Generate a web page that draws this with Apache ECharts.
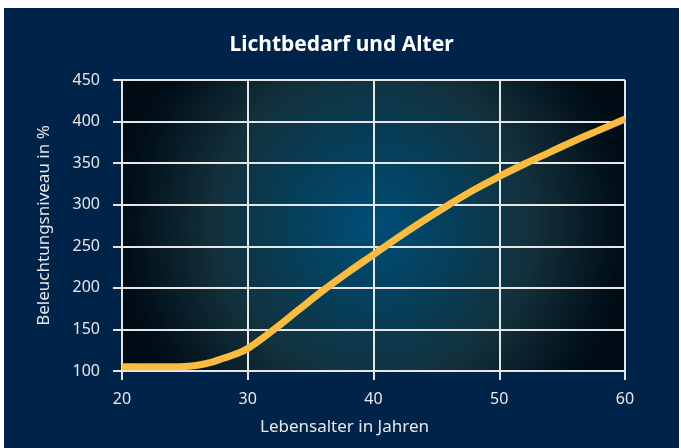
<!DOCTYPE html>
<html><head><meta charset="utf-8">
<script src="https://cdn.jsdelivr.net/npm/echarts@6/dist/echarts.min.js"></script>
<style>
html,body{margin:0;padding:0;background:#fff;width:681px;height:448px;overflow:hidden}
#c{position:absolute;left:4px;top:8px;width:675px;height:440px;background:#00234a}
</style></head><body><div id="c"></div>
<script>
const ages   = [20, 22, 24, 25, 26, 27, 28, 29, 30, 32, 34, 36, 38, 40, 42, 44, 46, 48, 50, 52, 54, 56, 58, 60];
const levels = [105,105,105,105.5,107,110,115,120,127,149,173,197,219,240,261,281,300,318,334,349,363,377,390,403];
const xTicks = [20, 30, 40, 50, 60];
const yTicks = [100, 150, 200, 250, 300, 350, 400, 450];

const chart = echarts.init(document.getElementById('c'), null, {renderer:'canvas'});
const font = 'Noto Sans';
chart.setOption({
  backgroundColor: '#00234a',
  animation: false,
  title: {
    text: 'Lichtbedarf und Alter', left: 'center', top: 22,
    textStyle: {color:'#fff', fontSize: 21, fontWeight:'bold', fontFamily: font}
  },
  grid: {
    left: 118, right: 54, top: 72, bottom: 77, show: true, borderWidth: 0,
    backgroundColor: {
      type: 'radial', x: 0.5, y: 0.5, r: 1.0,
      colorStops: [
        {offset: 0, color: '#004e78'},
        {offset: 0.3, color: '#063e58'},
        {offset: 0.55, color: '#13303b'},
        {offset: 0.85, color: '#000e18'},
        {offset: 1, color: '#000b14'}
      ]
    }
  },
  xAxis: {
    type: 'value', min: 20, max: 60, interval: 10,
    name: 'Lebensalter in Jahren', nameLocation: 'middle', nameGap: 48,
    nameTextStyle: {color:'#e8e8e8', fontSize: 17, fontFamily: font, padding: [0, 58, 0, 0]},
    axisLine: {show: true, lineStyle: {color:'#e6e6e6', width: 2}},
    axisTick: {show: true, length: 9, lineStyle: {color:'#e6e6e6', width: 2}},
    axisLabel: {color:'#e8e8e8', fontSize: 16, fontFamily: font, margin: 20,
      customValues: xTicks},
    splitLine: {show: true, lineStyle: {color:'#e6e6e6', width: 2}}
  },
  yAxis: {
    type: 'value', min: 100, max: 450, interval: 50,
    name: 'Beleuchtungsniveau in %', nameLocation: 'middle', nameGap: 69,
    nameTextStyle: {color:'#e8e8e8', fontSize: 17, fontFamily: font},
    axisLine: {show: true, lineStyle: {color:'#e6e6e6', width: 2}},
    axisTick: {show: true, length: 9, lineStyle: {color:'#e6e6e6', width: 2}},
    axisLabel: {color:'#e8e8e8', fontSize: 16, fontFamily: font, margin: 22,
      customValues: yTicks},
    splitLine: {show: true, lineStyle: {color:'#e6e6e6', width: 2}}
  },
  series: [{
    type: 'line', data: ages.map((a,i)=>[a, levels[i]]),
    smooth: 0.4, showSymbol: false, symbol: 'none',
    lineStyle: {color:'#f9bb40', width: 7, cap: 'butt'}
  }]
});
</script></body></html>
